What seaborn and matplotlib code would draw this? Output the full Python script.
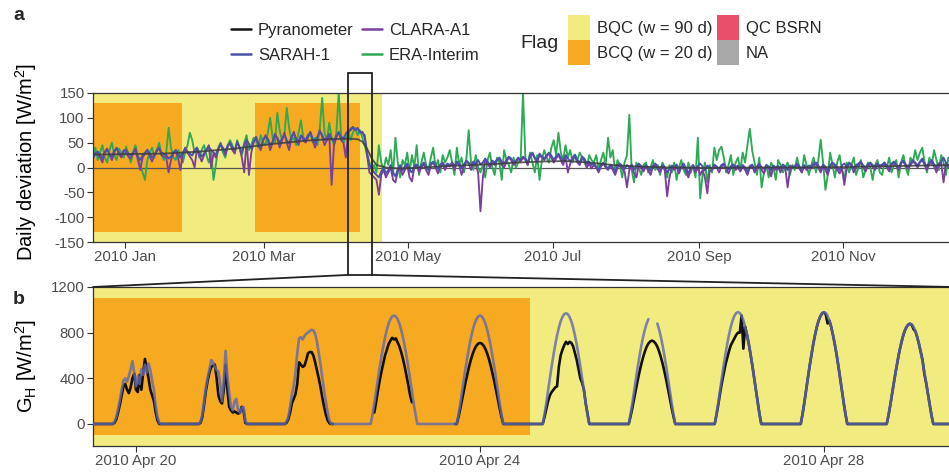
import numpy as np
import pandas as pd
import matplotlib
matplotlib.use("Agg")
import matplotlib.pyplot as plt
import matplotlib.dates as mdates
from matplotlib.patches import Rectangle, Patch
from matplotlib.lines import Line2D
from matplotlib.transforms import blended_transform_factory
import seaborn as sns

sns.set_theme(style="ticks")
plt.rcParams["font.family"] = ["Liberation Sans", "DejaVu Sans"]
plt.rcParams["mathtext.fontset"] = "custom"
plt.rcParams["mathtext.rm"] = "Liberation Sans"
plt.rcParams["mathtext.it"] = "Liberation Sans:italic"
plt.rcParams["mathtext.bf"] = "Liberation Sans:bold"
plt.rcParams["axes.unicode_minus"] = False

# ---------------- data: panel a (daily deviation, W/m2, 2010) ----------------
a_start = "2010-01-01 12:00"
sarah_dev = [
    20,28,32,25,18,30,35,28,22,34, 38,30,25,33,36,28,24,30,35,22, 15,25,30,35,28,20,26,33,38,30, 27,
    25,18,22,30,35,28,20,30,38,32, 28,24,35,40,30,22,28,36,42,35, 30,26,38,45,40,32,44,48,
    40,35,50,42,30,45,55,48,38,52, 60,50,42,55,62,58,45,52,65,60, 50,58,66,55,48,62,68,58,52,64, 60,
    55,65,70,58,50,62,72,66,55,60, 68,58,52,64,70,62,58,68,74,75, 80,76,78,72,70,65,30,5,-2,-10,
    -15,-20,-8,0,-12,-5,5,-10,-18,-3, 5,-6,2,8,-4,-10,3,6,-2,5, 10,2,-5,8,12,4,-3,6,10,2, 8,
    5,10,3,12,8,-2,6,14,10,4, 12,8,15,6,10,18,12,5,14,10, 16,20,12,8,15,22,18,10,14,20,
    15,22,18,10,25,30,20,15,28,22, 18,25,30,24,16,22,28,20,14,25, 18,12,20,26,15,10,22,18,8,12, 5,
    8,2,-5,5,10,3,-2,6,0,-8, 4,8,2,-3,5,0,6,-4,2,8, 3,-2,5,0,-6,4,8,2,-3,5, 0,
    -10,-3,4,0,6,-5,2,8,-2,-12, 0,5,-4,3,8,2,-6,4,0,-3, 6,2,-2,5,8,0,-4,3,6,1,
    4,-2,5,0,-8,3,6,-4,2,8, 0,-3,5,2,-6,4,0,3,-2,6, 2,-5,4,0,3,8,2,-3,5,0, 4,
    2,8,10,4,-3,6,2,-8,5,10, 6,0,-5,4,8,2,10,6,-2,5, 8,12,4,0,6,10,5,2,8,4,
    6,10,4,-2,8,12,5,0,10,14, 6,2,8,15,10,4,12,18,8,2, 10,15,6,0,8,12,20,10,4,6, 2,
]
clara_dev = [
    18,30,28,20,10,32,38,25,15,30, 40,28,20,35,30,22,18,28,38,15, -5,20,28,36,22,12,24,35,40,25, 22,
    20,-10,15,28,35,20,-5,25,40,30, 22,15,0,38,25,12,25,35,45,0, 28,20,35,48,38,25,42,50,
    35,28,52,40,20,-10,55,-15,30,50, 62,45,35,55,65,55,35,50,68,58, 40,55,70,50,35,60,72,55,45,65, 55,
    50,60,72,55,40,60,75,62,45,55, 65,-35,45,60,72,55,50,20,70,78, 82,75,80,70,72,60,25,-10,-15,-20,
    -25,-55,-15,-5,-20,-10,0,-25,-30,-8, 0,-15,-5,5,-20,-28,0,5,-10,0, 8,-5,-15,5,10,0,-12,2,8,-5, 5,
    2,8,-5,10,5,-15,2,12,8,-5, 10,5,-10,-88,-20,15,8,0,12,5, 15,18,5,0,12,20,15,5,10,18,
    12,20,15,5,22,28,18,10,25,20, 15,22,28,20,10,18,25,15,5,22, -10,8,18,22,10,5,20,15,0,8, -2,
    5,0,-10,2,8,0,-5,4,-5,-15, 0,6,-2,-8,-40,-5,2,-12,-20,5, 0,-8,3,-5,-15,2,5,-3,-10,2, -5,
    -58,-20,0,-5,3,-12,0,5,-8,-20, -5,2,-10,0,-15,-5,-20,-52,-8,-5, 3,0,-10,2,5,-3,-12,0,3,-5,
    0,-8,2,-5,-15,0,4,-10,-2,5, -5,-12,2,0,-18,2,-5,0,-10,3, 0,-40,-5,2,0,5,-2,-10,3,-5, 0,
    -2,5,8,0,-10,3,-5,-15,2,8, 3,-5,-12,0,-35,-2,8,3,-10,2, 5,10,0,-8,3,8,2,-5,5,0,
    3,8,0,-8,5,10,2,-5,8,12, 3,-3,5,12,8,0,10,15,5,-5, 8,12,2,-10,5,10,-30,8,0,3, 0,
]
era_dev = [
    25,40,15,30,45,20,10,35,50,25, 15,38,30,20,42,25,10,32,45,20, 5,-10,-25,15,30,40,20,35,50,25, 15,
    30,80,40,20,15,35,25,10,30,45, 70,55,30,40,20,35,45,25,10,30, -25,5,40,50,30,20,45,55,
    45,30,55,40,25,50,65,35,45,60, 55,40,65,50,45,70,100,60,50,110, 75,55,65,120,80,55,60,45,70,95, 60,
    55,65,70,50,60,45,80,140,70,55, 90,60,45,70,150,65,50,60,75,55, 70,80,65,75,60,45,25,10,-5,5,
    -10,45,10,-5,20,5,35,-15,60,10, -20,15,5,30,-10,25,0,45,-15,10, 30,5,-5,20,40,0,15,-10,25,10, 20,
    35,10,-15,40,5,20,-10,15,75,10, -5,25,0,-10,5,-20,15,30,0,-15, 20,10,-25,35,15,5,-10,20,0,10,
    15,150,20,5,30,10,-10,25,-25,15, 35,20,10,40,55,25,70,30,15,45, 20,35,10,25,15,30,20,10,0,25, 15,
    10,25,-5,15,30,5,60,20,35,-10, 15,5,-20,10,25,106,-5,-30,10,0, -15,5,10,-10,0,15,-5,5,-15,10, 0,
    -20,5,-10,10,-25,0,15,-5,-15,10, -10,5,-20,60,-62,-15,10,-30,5,-10, 40,15,35,42,20,-10,5,25,-15,10,
    20,-5,30,10,45,78,35,10,-15,20, -40,-10,5,-20,10,0,-25,15,5,-10, 0,10,-15,5,-5,20,0,-10,25,5, -15,
    5,20,-10,15,56,10,-45,-15,30,5, -20,10,25,-5,-25,10,-10,5,20,-15, 0,15,-20,-5,10,0,-25,5,15,-10,
    -15,10,0,20,-10,5,15,-20,10,25, 0,-15,20,10,35,15,30,40,10,-10, 20,5,35,15,-5,25,10,-15,20,5, 10,
]
# running mean (dark line), knots: day index -> value
smooth_day = [0,15,30,45,60,75,90,100,108,112,114,116,118,120,124,130,140,150,160,170,
              180,190,200,210,220,230,245,260,280,300,320,340,364]
smooth_val = [26,27,28,32,38,47,54,57,58,57,52,38,18,5,0,-2,0,3,5,7,
              10,12,13,10,5,2,0,-1,0,0,1,3,5]

a_ticks = ["2010-01-15", "2010-03-15", "2010-05-15", "2010-07-15", "2010-09-15", "2010-11-15"]
a_ticklabels = ["2010 Jan", "2010 Mar", "2010 May", "2010 Jul", "2010 Sep", "2010 Nov"]
a_yticks = [-150, -100, -50, 0, 50, 100, 150]

a_bqc = [("2010-01-01 12:00", "2010-05-04 00:00")]
a_bcq = [("2010-01-01 12:00", "2010-02-08 00:00"), ("2010-03-11 00:00", "2010-04-24 14:00")]

# ---------------- data: panel b (half-hourly G_H, W/m2) ----------------
b_xlim = ("2010-04-19 12:00", "2010-04-29 12:00")
b_day_dates = ["2010-04-20", "2010-04-21", "2010-04-22", "2010-04-23", "2010-04-24",
               "2010-04-25", "2010-04-26", "2010-04-27", "2010-04-28", "2010-04-29"]
b_offsets_h = np.arange(-7.0, 7.01, 0.5)   # time steps around solar noon
nan = np.nan
sarah_gh = [
    [0,0,20,60,130,210,300,380,400,370,420,480,550,450,330,420,350,480,430,520,450,530,470,380,300,160,60,10,0],
    [0,0,20,80,200,320,410,480,560,540,500,470,460,350,200,380,640,420,280,150,120,200,220,120,100,140,150,30,0],
    [0,0,20,60,150,260,330,450,620,750,760,740,770,790,800,815,825,820,790,720,620,520,400,290,190,100,30,0,0],
    [0,0,83,180,288,393,496,592,681,759,826,880,918,942,950,942,918,880,826,759,681,592,496,393,288,180,83,0,0],
    [0,0,83,180,288,393,496,592,681,759,826,880,918,942,950,942,918,880,826,759,681,592,496,393,288,180,83,0,0],
    [0,0,85,184,294,401,506,604,695,775,843,898,937,962,970,962,937,898,843,775,695,604,506,401,294,184,85,0,0],
    [0,0,83,180,288,393,496,592,681,759,826,880,918,nan,nan,nan,nan,880,826,759,681,592,496,393,288,180,83,0,0],
    [0,0,86,186,297,405,512,611,703,783,852,908,947,972,980,972,947,908,852,783,703,611,512,405,297,186,86,0,0],
    [0,0,86,186,297,405,512,611,703,783,852,908,947,972,980,972,947,908,852,783,703,611,512,405,297,186,86,0,0],
    [0,0,77,167,267,364,459,548,631,703,765,815,850,872,880,872,850,815,765,703,631,548,459,364,267,167,77,0,0],
]
pyr_gh = [
    [0,0,10,40,100,170,250,330,350,300,270,320,400,440,300,280,430,300,450,570,480,400,300,250,200,100,30,0,0],
    [0,0,10,60,170,290,380,450,500,510,520,400,250,200,180,300,520,300,150,120,100,110,100,90,100,150,120,10,0],
    [0,0,10,40,100,180,220,260,350,540,520,500,510,560,620,630,630,600,540,470,400,320,230,150,80,30,5,0,0],
    [nan,nan,nan,100,190,290,380,460,530,600,650,700,730,755,740,750,715,680,630,570,500,420,340,250,190,nan,nan,nan,nan],
    [0,0,62,135,215,294,371,442,509,567,617,658,686,704,710,704,686,658,617,567,509,442,371,294,215,135,62,0,0],
    [0,0,60,130,200,250,280,300,320,330,500,600,650,690,720,700,720,710,680,620,560,480,400,360,300,180,90,0,0],
    [0,0,64,138,221,302,381,455,523,583,634,676,705,723,730,723,705,676,634,583,523,455,381,302,221,138,64,0,0],
    [0,0,80,170,270,360,440,520,580,640,690,720,750,780,800,800,950,660,850,783,703,611,512,405,297,186,86,0,0],
    [0,0,84,184,295,402,508,606,700,780,850,905,945,970,978,960,880,905,850,780,700,610,510,400,295,185,85,0,0],
    [0,0,75,165,265,362,457,546,630,700,763,813,848,870,878,868,830,812,762,700,628,560,440,360,265,165,75,0,0],
]
b_ticks = ["2010-04-20", "2010-04-24", "2010-04-28"]
b_ticklabels = ["2010 Apr 20", "2010 Apr 24", "2010 Apr 28"]
b_yticks = [0, 400, 800, 1200]
b_bcq = [("2010-04-19 12:00", "2010-04-24 14:00")]

# ---------------- styling ----------------
C_PYR, C_CLARA, C_SARAH, C_ERA = "#111111", "#7B3F9E", "#4A52A8", "#2DAA55"
C_SARAH_B = "#6068B0"
C_BQC, C_BCQ, C_QC, C_NA = "#F2EC80", "#F6AA22", "#E94F68", "#A8A8A8"
C_AX = "#333333"
C_TICK = "#4D4D4D"

for name, arr in (("sarah", sarah_dev), ("clara", clara_dev), ("era", era_dev)):
    if len(arr) != 365:
        raise ValueError(f"{name} has {len(arr)} values")
for i, (s, p) in enumerate(zip(sarah_gh, pyr_gh)):
    if len(s) != len(b_offsets_h) or len(p) != len(b_offsets_h):
        raise ValueError(f"day {i}: {len(s)} {len(p)}")

W, H = 949, 472
fig = plt.figure(figsize=(W / 100, H / 100), dpi=100)


def ax_rect(l, t, r, b):
    return [l / W, 1 - b / H, (r - l) / W, (b - t) / H]


axA = fig.add_axes(ax_rect(93, 93, 953, 242))
axB = fig.add_axes(ax_rect(93, 287, 953, 446))

d2n = lambda s: mdates.date2num(pd.Timestamp(s))

# ---- panel a ----
dates_a = pd.date_range(a_start, periods=365, freq="D")
dfA = pd.DataFrame({
    "date": np.concatenate([dates_a, dates_a, dates_a]),
    "dev": np.array(era_dev + clara_dev + sarah_dev, float),
    "series": ["ERA-Interim"] * 365 + ["CLARA-A1"] * 365 + ["SARAH-1"] * 365,
})
for x0, x1 in a_bqc:
    axA.axvspan(d2n(x0), d2n(x1), color=C_BQC, lw=0, zorder=0)
for x0, x1 in a_bcq:
    axA.add_patch(Rectangle((d2n(x0), -130), d2n(x1) - d2n(x0), 260, color=C_BCQ, lw=0, zorder=0.5))
axA.axhline(0, color="#555555", lw=0.9, zorder=1.5)
sns.lineplot(data=dfA, x="date", y="dev", hue="series",
             hue_order=["ERA-Interim", "CLARA-A1", "SARAH-1"],
             palette={"ERA-Interim": C_ERA, "CLARA-A1": C_CLARA, "SARAH-1": C_SARAH},
             lw=1.35, legend=False, ax=axA, zorder=2)
dfS = pd.DataFrame({"date": pd.Timestamp(a_start) + pd.to_timedelta(smooth_day, unit="D"),
                    "val": smooth_val})
sns.lineplot(data=dfS, x="date", y="val", color="#3C3C3C", lw=1.3, alpha=0.85, ax=axA, zorder=3)

axA.set_xlim(d2n(dates_a[0]), d2n(dates_a[-1]))
axA.set_ylim(-150, 150)
axA.set_xticks([d2n(t) for t in a_ticks])
axA.set_xticklabels(a_ticklabels)
axA.set_yticks(a_yticks)
axA.set_xlabel("")
axA.set_ylabel("Daily deviation [W/m$^2$]", fontsize=14.5, color="black")
axA.yaxis.set_label_coords(-0.063, 0.535)

# ---- panel b ----
def build_b(profiles):
    t = [pd.Timestamp(b_xlim[0])]
    v = [0.0]
    for day, prof in zip(b_day_dates, profiles):
        t.extend(pd.Timestamp(day) + pd.to_timedelta(b_offsets_h, unit="h"))
        v.extend(prof)
    t.append(pd.Timestamp(b_xlim[1]))
    v.append(0.0)
    v = np.array(v, float)
    df = pd.DataFrame({"time": t, "value": v, "seg": np.cumsum(np.isnan(v))})
    return df.dropna()


axB.axvspan(d2n(b_xlim[0]), d2n(b_xlim[1]), color=C_BQC, lw=0, zorder=0)
for x0, x1 in b_bcq:
    axB.add_patch(Rectangle((d2n(x0), -100), d2n(x1) - d2n(x0), 1200, color=C_BCQ, lw=0, zorder=0.5))
sns.lineplot(data=build_b(pyr_gh), x="time", y="value", units="seg", estimator=None,
             color=C_PYR, lw=1.9, ax=axB, zorder=2)
sns.lineplot(data=build_b(sarah_gh), x="time", y="value", units="seg", estimator=None,
             color=C_SARAH_B, lw=1.9, alpha=0.8, ax=axB, zorder=3)
axB.set_xlim(d2n(b_xlim[0]), d2n(b_xlim[1]))
axB.set_ylim(-193, 1200)
axB.set_xticks([d2n(t) for t in b_ticks])
axB.set_xticklabels(b_ticklabels)
axB.set_yticks(b_yticks)
axB.set_xlabel("")
axB.set_ylabel("G$_\\mathrm{H}$ [W/m$^2$]", fontsize=14.5, color="black")
axB.yaxis.set_label_coords(-0.063, 0.5)

for ax in (axA, axB):
    for sp in ax.spines.values():
        sp.set_color(C_AX)
        sp.set_linewidth(0.9)
    ax.spines["right"].set_visible(False)
    ax.tick_params(axis="both", length=4, width=0.8, color=C_AX, labelcolor=C_TICK,
                   labelsize=10.8, pad=2)
    ax.set_facecolor("white")

# ---- zoom box and connectors ----
blend = blended_transform_factory(axA.transData, axA.transAxes)
bx0, bx1 = d2n(b_xlim[0]), d2n(b_xlim[1])
box_bottom, box_top = -0.221, 1.134
axA.add_patch(Rectangle((bx0, box_bottom), bx1 - bx0, box_top - box_bottom, transform=blend,
                        fill=False, ec="#222222", lw=1.3, clip_on=False, zorder=5))
inv = fig.transFigure.inverted()
for xa, xb in ((bx0, 0.0), (bx1, 1.0)):
    p1 = inv.transform(blend.transform((xa, box_bottom)))
    p2 = inv.transform(axB.transAxes.transform((xb, 1.0)))
    fig.add_artist(Line2D([p1[0], p2[0]], [p1[1], p2[1]], transform=fig.transFigure,
                          color="#222222", lw=1.3))

# ---- legends ----
line_handles = [Line2D([], [], color=c, lw=1.8) for c in (C_PYR, C_SARAH, C_CLARA, C_ERA)]
fig.legend(line_handles, ["Pyranometer", "SARAH-1", "CLARA-A1", "ERA-Interim"],
           loc="upper left", bbox_to_anchor=(231 / W, 1 - 23 / H), ncol=2, frameon=False,
           fontsize=12, handlelength=1.2, handletextpad=0.42, columnspacing=0.48,
           labelspacing=0.6, borderpad=0, borderaxespad=0)
fig.text(520 / W, 1 - 43 / H, "Flag", fontsize=14, ha="left", va="center")
flag_handles = [Patch(color=c, lw=0) for c in (C_BQC, C_BCQ, C_QC, C_NA)]
fig.legend(flag_handles, ["BQC (w = 90 d)", "BCQ (w = 20 d)", "QC BSRN", "NA"],
           loc="upper left", bbox_to_anchor=(568 / W, 1 - 15 / H), ncol=2, frameon=False,
           fontsize=12, handlelength=1.32, handleheight=1.93, handletextpad=0.42,
           columnspacing=0.24, labelspacing=0.0, borderpad=0, borderaxespad=0)

fig.text(13 / W, 1 - 15.5 / H, "a", fontsize=14, fontweight="bold", ha="left", va="center")
fig.text(13 / W, 1 - 299 / H, "b", fontsize=14, fontweight="bold", ha="left", va="center")

fig.savefig("out.png", dpi=100)
